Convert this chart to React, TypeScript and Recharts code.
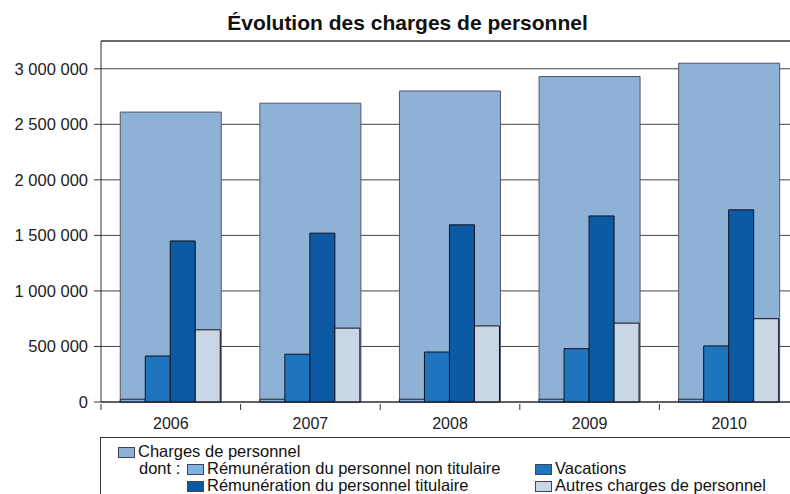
import { BarChart, Bar, XAxis, YAxis, CartesianGrid, ReferenceLine } from 'recharts'

const YEARS = ['2006', '2007', '2008', '2009', '2010']
const CHARGES = [2610000, 2690000, 2800000, 2930000, 3050000]
const NON_TITULAIRE = [25000, 25000, 25000, 25000, 25000]
const VACATIONS = [414000, 430000, 450000, 480000, 505000]
const TITULAIRE = [1450000, 1520000, 1595000, 1675000, 1730000]
const AUTRES = [650000, 665000, 685000, 710000, 750000]
const Y_TICKS = [0, 500000, 1000000, 1500000, 2000000, 2500000, 3000000]
const Y_MAX = 3250000

const data = YEARS.map((year, i) => ({
  year,
  charges: CHARGES[i],
  nonTitulaire: NON_TITULAIRE[i],
  vacations: VACATIONS[i],
  titulaire: TITULAIRE[i],
  autres: AUTRES[i],
}))

const FONT = '"Liberation Sans", Arial, sans-serif'
const CHART_W = 810
const MARGIN = { top: 41, right: 11, left: 0, bottom: 57 }
const Y_W = 101
const BAND = (CHART_W - MARGIN.right - MARGIN.left - Y_W) / YEARS.length

const C_CHARGES = '#8db2d6'
const C_NON_TIT = '#7fb2e3'
const C_VAC = '#1d75bd'
const C_TIT = '#0b5aa3'
const C_AUTRES = '#c9d6e3'

const fmt = (v: number) => String(v).replace(/\B(?=(\d{3})+(?!\d))/g, ' ')

function YearTick({ x, y, payload }: any) {
  return (
    <g>
      <line x1={x - BAND / 2} x2={x - BAND / 2} y1={y - 6} y2={y} stroke="#333" />
      <text x={x} y={y + 19} textAnchor="middle" fontSize={16} fontFamily={FONT} fill="#222">
        {payload.value}
      </text>
    </g>
  )
}

function Swatch({ color }: { color: string }) {
  return (
    <span
      style={{
        display: 'inline-block',
        width: 15,
        height: 9,
        background: color,
        border: '1px solid #445',
        marginRight: 3,
        verticalAlign: 'middle',
      }}
    />
  )
}

export default function App() {
  return (
    <div style={{ position: 'absolute', left: 0, top: 0, width: 790, height: 494, overflow: 'hidden', background: '#fff', fontFamily: FONT }}>
      <div style={{ position: 'absolute', left: 0, width: 815, top: 11, textAlign: 'center', fontWeight: 'bold', fontSize: 21, color: '#111' }}>
        Évolution des charges de personnel
      </div>
      <BarChart width={CHART_W} height={494} data={data} margin={MARGIN} barCategoryGap="13.8%" barGap={0}>
        <CartesianGrid vertical={false} stroke="#444" />
        <XAxis xAxisId="big" dataKey="year" height={35} stroke="#222" tickLine={false} tick={<YearTick />} interval={0} />
        <XAxis xAxisId="small" dataKey="year" hide />
        <YAxis
          width={Y_W}
          domain={[0, Y_MAX]}
          ticks={Y_TICKS}
          tickFormatter={fmt}
          tickSize={7}
          tickMargin={6}
          stroke="#333"
          tick={{ fontSize: 16.5, fill: '#222', fontFamily: FONT }}
          interval={0}
        />
        <ReferenceLine xAxisId="big" y={Y_MAX} stroke="#333" />
        <Bar xAxisId="big" dataKey="charges" fill={C_CHARGES} stroke="#556" isAnimationActive={false} />
        <Bar xAxisId="small" dataKey="nonTitulaire" fill={C_NON_TIT} stroke="#223" isAnimationActive={false} />
        <Bar xAxisId="small" dataKey="vacations" fill={C_VAC} stroke="#112" isAnimationActive={false} />
        <Bar xAxisId="small" dataKey="titulaire" fill={C_TIT} stroke="#112" isAnimationActive={false} />
        <Bar xAxisId="small" dataKey="autres" fill={C_AUTRES} stroke="#112" isAnimationActive={false} />
      </BarChart>
      <div style={{ position: 'absolute', left: 100, top: 437, width: 700, height: 60, borderTop: '1px solid #333', borderLeft: '1px solid #333', fontSize: 16.5, color: '#111', lineHeight: '17px' }}>
        <div style={{ position: 'absolute', left: 17, top: 5, whiteSpace: 'nowrap' }}>
          <Swatch color={C_CHARGES} />Charges de personnel
        </div>
        <div style={{ position: 'absolute', left: 38, top: 22, whiteSpace: 'nowrap' }}>dont :</div>
        <div style={{ position: 'absolute', left: 86, top: 22, whiteSpace: 'nowrap' }}>
          <Swatch color={C_NON_TIT} />Rémunération du personnel non titulaire
        </div>
        <div style={{ position: 'absolute', left: 434, top: 22, whiteSpace: 'nowrap' }}>
          <Swatch color={C_VAC} />Vacations
        </div>
        <div style={{ position: 'absolute', left: 86, top: 39, whiteSpace: 'nowrap' }}>
          <Swatch color={C_TIT} />Rémunération du personnel titulaire
        </div>
        <div style={{ position: 'absolute', left: 434, top: 39, whiteSpace: 'nowrap' }}>
          <Swatch color={C_AUTRES} />Autres charges de personnel
        </div>
      </div>
    </div>
  )
}
